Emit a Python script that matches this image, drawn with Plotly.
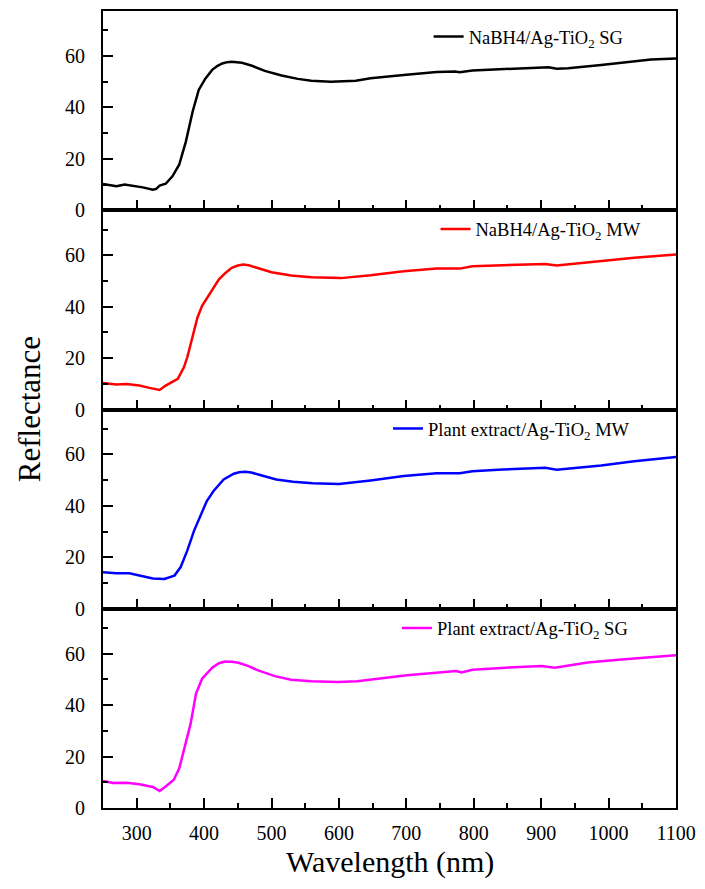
import plotly.graph_objects as go
from plotly.subplots import make_subplots

# NaBH4/Ag-TiO2 SG
wl_nabh4_sg = [250, 260, 270, 282, 294, 309, 324, 329, 334, 343, 353, 363, 373, 383, 392, 402, 412,
               420, 427, 434, 441, 448, 456, 471, 490, 515, 539, 559, 588, 625, 647, 696, 745, 772,
               779, 798, 843, 891, 911, 923, 940, 989, 1038, 1063, 1100]
ref_nabh4_sg = [10.2, 9.7, 9.3, 10.0, 9.6, 8.9, 8.0, 8.3, 9.6, 10.3, 13.2, 17.7, 26.8, 38.4, 46.8,
                51.3, 54.6, 56.2, 57.1, 57.6, 57.8, 57.7, 57.4, 56.2, 54.2, 52.4, 51.1, 50.4, 50.0,
                50.4, 51.3, 52.6, 53.8, 54.0, 53.7, 54.4, 54.9, 55.4, 55.6, 55.0, 55.2, 56.5, 57.8,
                58.6, 59.0]

# NaBH4/Ag-TiO2 MW
wl_nabh4_mw = [250, 270, 285, 304, 319, 334, 343, 352, 361, 370, 375, 380, 385, 390, 397, 405, 412,
               422, 432, 441, 450, 458, 466, 475, 500, 529, 559, 603, 627, 647, 696, 745, 779, 798,
               843, 906, 923, 989, 1038, 1100]
ref_nabh4_mw = [10.3, 9.7, 9.9, 9.3, 8.4, 7.6, 9.3, 10.5, 11.9, 16.4, 20.3, 25.4, 31.2, 35.7, 40.3,
                43.5, 46.3, 50.6, 53.2, 55.1, 56.0, 56.4, 56.1, 55.4, 53.4, 52.1, 51.4, 51.1, 51.6,
                52.2, 53.8, 54.8, 54.8, 55.7, 56.1, 56.6, 56.0, 57.7, 59.0, 60.3]

# Plant extract/Ag-TiO2 MW
wl_plant_mw = [250, 270, 289, 304, 324, 341, 356, 365, 375, 385, 395, 404, 414, 429, 444, 452, 461,
               470, 483, 507, 532, 561, 600, 627, 647, 696, 745, 779, 798, 843, 906, 923, 989, 1038,
               1100]
ref_plant_mw = [14.2, 13.8, 13.8, 12.9, 11.8, 11.6, 12.9, 16.1, 22.6, 30.3, 36.8, 41.9, 45.8, 50.3,
                52.5, 53.1, 53.3, 53.0, 52.0, 50.3, 49.4, 48.8, 48.5, 49.2, 49.9, 51.6, 52.7, 52.7,
                53.5, 54.2, 54.8, 54.1, 55.7, 57.4, 59.0]

# Plant extract/Ag-TiO2 SG
wl_plant_sg = [250, 265, 285, 304, 324, 334, 343, 355, 363, 373, 380, 388, 397, 412, 422, 431, 441,
               451, 466, 480, 505, 529, 559, 598, 627, 701, 774, 782, 798, 847, 901, 920, 969, 1019,
               1068, 1100]
ref_plant_sg = [10.5, 9.7, 9.8, 9.2, 8.2, 6.6, 8.4, 11.0, 15.3, 25.0, 32.8, 44.5, 50.3, 54.6, 56.3,
                57.0, 56.9, 56.5, 55.2, 53.5, 51.3, 49.9, 49.3, 49.0, 49.3, 51.6, 53.3, 52.7, 53.8,
                54.6, 55.2, 54.6, 56.6, 57.8, 58.7, 59.4]

series = [
    ("NaBH4/Ag-TiO<sub>2</sub> SG", wl_nabh4_sg, ref_nabh4_sg, "#000000"),
    ("NaBH4/Ag-TiO<sub>2</sub> MW", wl_nabh4_mw, ref_nabh4_mw, "#FF0000"),
    ("Plant extract/Ag-TiO<sub>2</sub> MW", wl_plant_mw, ref_plant_mw, "#0000FF"),
    ("Plant extract/Ag-TiO<sub>2</sub> SG", wl_plant_sg, ref_plant_sg, "#FF00FF"),
]

x_ticks = [300, 400, 500, 600, 700, 800, 900, 1000, 1100]
y_ticks = [0, 20, 40, 60]

FONT = "Liberation Serif"
TICK_FONT = dict(family=FONT, size=20, color="#000")

fig = make_subplots(rows=4, cols=1, shared_xaxes=True, vertical_spacing=0)

legend_names = ["legend", "legend2", "legend3", "legend4"]
legend_pos = [(0.5683, 0.9675), (0.5803, 0.726), (0.4974, 0.4756), (0.5130, 0.2253)]

for i, (name, wl, ref, color) in enumerate(series):
    fig.add_trace(
        go.Scatter(x=wl, y=ref, mode="lines", name=name,
                   line=dict(color=color, width=2.5),
                   legend=legend_names[i]),
        row=i + 1, col=1)

layout_legends = {}
for ln, (lx, ly) in zip(legend_names, legend_pos):
    layout_legends[ln] = dict(x=lx, y=ly, xanchor="left", yanchor="middle",
                              bgcolor="rgba(0,0,0,0)", borderwidth=0,
                              font=dict(family=FONT, size=18.5, color="#000"))

axis_common = dict(ticks="inside", ticklen=10, tickwidth=1.5, tickcolor="#000",
                   showline=True, linecolor="#000", linewidth=2, mirror=True,
                   showgrid=False, zeroline=False, tickfont=TICK_FONT)

for r in range(1, 5):
    fig.update_xaxes(range=[250, 1100], tickmode="array", tickvals=x_ticks,
                     ticktext=[str(v) for v in x_ticks],
                     minor=dict(ticks="inside", ticklen=5, tickwidth=1.5, tickcolor="#000",
                                dtick=50, tick0=0, showgrid=False),
                     ticklabelstandoff=6, row=r, col=1, **axis_common)
    fig.update_yaxes(range=[0, 77.5], tickmode="array", tickvals=y_ticks,
                     ticktext=[str(v) for v in y_ticks],
                     minor=dict(ticks="inside", ticklen=5, tickwidth=1.5, tickcolor="#000",
                                dtick=10, tick0=0, showgrid=False),
                     ticklabelstandoff=12, row=r, col=1, **axis_common)

fig.update_layout(
    width=705, height=889,
    margin=dict(l=103, r=23, t=9, b=81),
    paper_bgcolor="white", plot_bgcolor="white",
    font=dict(family=FONT, color="#000", size=20),
    showlegend=True,
    **layout_legends,
    annotations=[
        dict(text="Wavelength (nm)", x=0.5, y=-0.068, xref="paper", yref="paper",
             xanchor="center", yanchor="middle", showarrow=False,
             font=dict(family=FONT, size=30, color="#000")),
        dict(text="Reflectance", x=-0.128, y=0.5, xref="paper", yref="paper", textangle=-90,
             xanchor="center", yanchor="middle", showarrow=False,
             font=dict(family=FONT, size=31, color="#000")),
    ],
)

fig.write_html("out.html")
